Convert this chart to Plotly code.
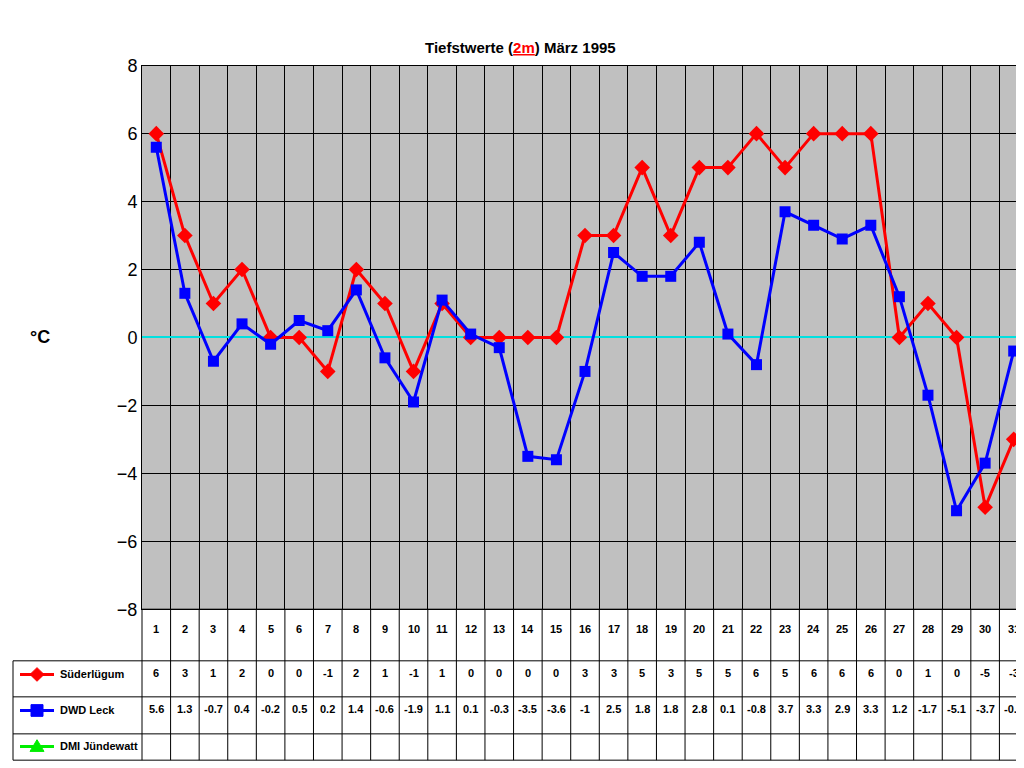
import plotly.graph_objects as go

days = list(range(1, 32))
suederluegum = [6,3,1,2,0,0,-1,2,1,-1,1,0,0,0,0,3,3,5,3,5,5,6,5,6,6,6,0,1,0,-5,-3]
dwd_leck = [5.6,1.3,-0.7,0.4,-0.2,0.5,0.2,1.4,-0.6,-1.9,1.1,0.1,-0.3,-3.5,-3.6,-1,2.5,1.8,1.8,2.8,0.1,-0.8,3.7,3.3,2.9,3.3,1.2,-1.7,-5.1,-3.7,-0.4]
series_names = ["Süderlügum", "DWD Leck", "DMI Jündewatt"]
y_ticks = [-8,-6,-4,-2,0,2,4,6,8]

W, H = 1024, 768
X0, X1 = 134, 1020
YT, YB = 49, 607
px = lambda v: v / W
py = lambda v: 1 - v / H

fig = go.Figure()
fig.add_trace(go.Scatter(x=days, y=suederluegum, mode="lines+markers", name=series_names[0],
                         line=dict(color="#ff0000", width=3), marker=dict(symbol="diamond", size=12, color="#ff0000")))
fig.add_trace(go.Scatter(x=days, y=dwd_leck, mode="lines+markers", name=series_names[1],
                         line=dict(color="#0000ff", width=3), marker=dict(symbol="square", size=11, color="#0000ff")))

bounds = [d - 0.5 for d in days] + [31.5]
fig.update_layout(
    width=W, height=H, margin=dict(l=0, r=0, t=0, b=0), showlegend=False,
    paper_bgcolor="white", plot_bgcolor="#c0c0c0",
    font=dict(family="Arial", color="black"),
    xaxis=dict(domain=[px(X0), px(X1)], range=[0.5, 31.5], tickvals=bounds, showticklabels=False,
               showgrid=True, gridcolor="black", gridwidth=1, zeroline=False, ticks="",
               showline=True, linecolor="black", mirror=True),
    yaxis=dict(domain=[py(YB), py(YT)], range=[-8, 8], tickvals=y_ticks, showgrid=True,
               gridcolor="black", gridwidth=1, zeroline=True, zerolinecolor="#00e0e0", zerolinewidth=2,
               tickfont=dict(size=18, family="Arial Black, Arial", color="black"),
               showline=True, linecolor="black", mirror=True, ticks="", ticklen=6),
)

shapes = []
def line(x0, y0, x1, y1, color="black", width=1):
    shapes.append(dict(type="line", xref="paper", yref="paper", x0=px(x0), y0=py(y0), x1=px(x1), y1=py(y1),
                       line=dict(color=color, width=width)))
cw = (X1 - X0) / 31
for i in range(len(bounds)):
    xx = X0 + i * cw
    line(xx, YB, xx, 762)
line(X0, YB, X1, YB)
for yy in [660, 697, 735, 762]:
    line(5, yy, X1, yy)
line(5, 660, 5, 762)

def poly(pts, col):
    path = "M " + " L ".join(f"{px(a)},{py(b)}" for a, b in pts) + " Z"
    shapes.append(dict(type="path", xref="paper", yref="paper", path=path,
                       fillcolor=col, line=dict(color=col, width=1)))

ann = []
ann.append(dict(text="<b>Tiefstwerte (<span style='color:red'><u>2m</u></span>) März 1995</b>", x=0.5, y=py(20),
                xref="paper", yref="paper", showarrow=False, font=dict(size=15, family="Arial")))
ann.append(dict(text="<b>°C</b>", x=px(20), y=py(328), xref="paper", yref="paper", showarrow=False,
                font=dict(size=18, family="Arial")))
for d in days:
    ann.append(dict(text=f"<b>{d}</b>", x=d, y=py(636), xref="x", yref="paper", showarrow=False, font=dict(size=11)))
rows = [(suederluegum, 681), (dwd_leck, 718)]
for vals, yy in rows:
    for d, v in zip(days, vals):
        ann.append(dict(text=f"<b>{v:g}</b>", x=d, y=py(yy), xref="x", yref="paper", showarrow=False, font=dict(size=11)))
legend_rows = [(682, "#ff0000", "diamond"), (719, "#0000ff", "square"), (756, "#00ee00", "triangle")]
for (yy, col, sym), name in zip(legend_rows, series_names):
    cy = yy - 8
    line(12, cy, 46, cy, color=col, width=3)
    cx = 29
    if sym == "diamond":
        poly([(cx, cy - 7), (cx + 7, cy), (cx, cy + 7), (cx - 7, cy)], col)
    elif sym == "square":
        poly([(cx - 6, cy - 6), (cx + 6, cy - 6), (cx + 6, cy + 6), (cx - 6, cy + 6)], col)
    else:
        poly([(cx, cy - 7), (cx + 7, cy + 5), (cx - 7, cy + 5)], col)
    ann.append(dict(text=f"<b>{name}</b>", x=px(50), y=py(yy), xref="paper", yref="paper", xanchor="left",
                    showarrow=False, font=dict(size=11)))
fig.update_layout(shapes=shapes, annotations=ann)
fig.write_html("out.html")
